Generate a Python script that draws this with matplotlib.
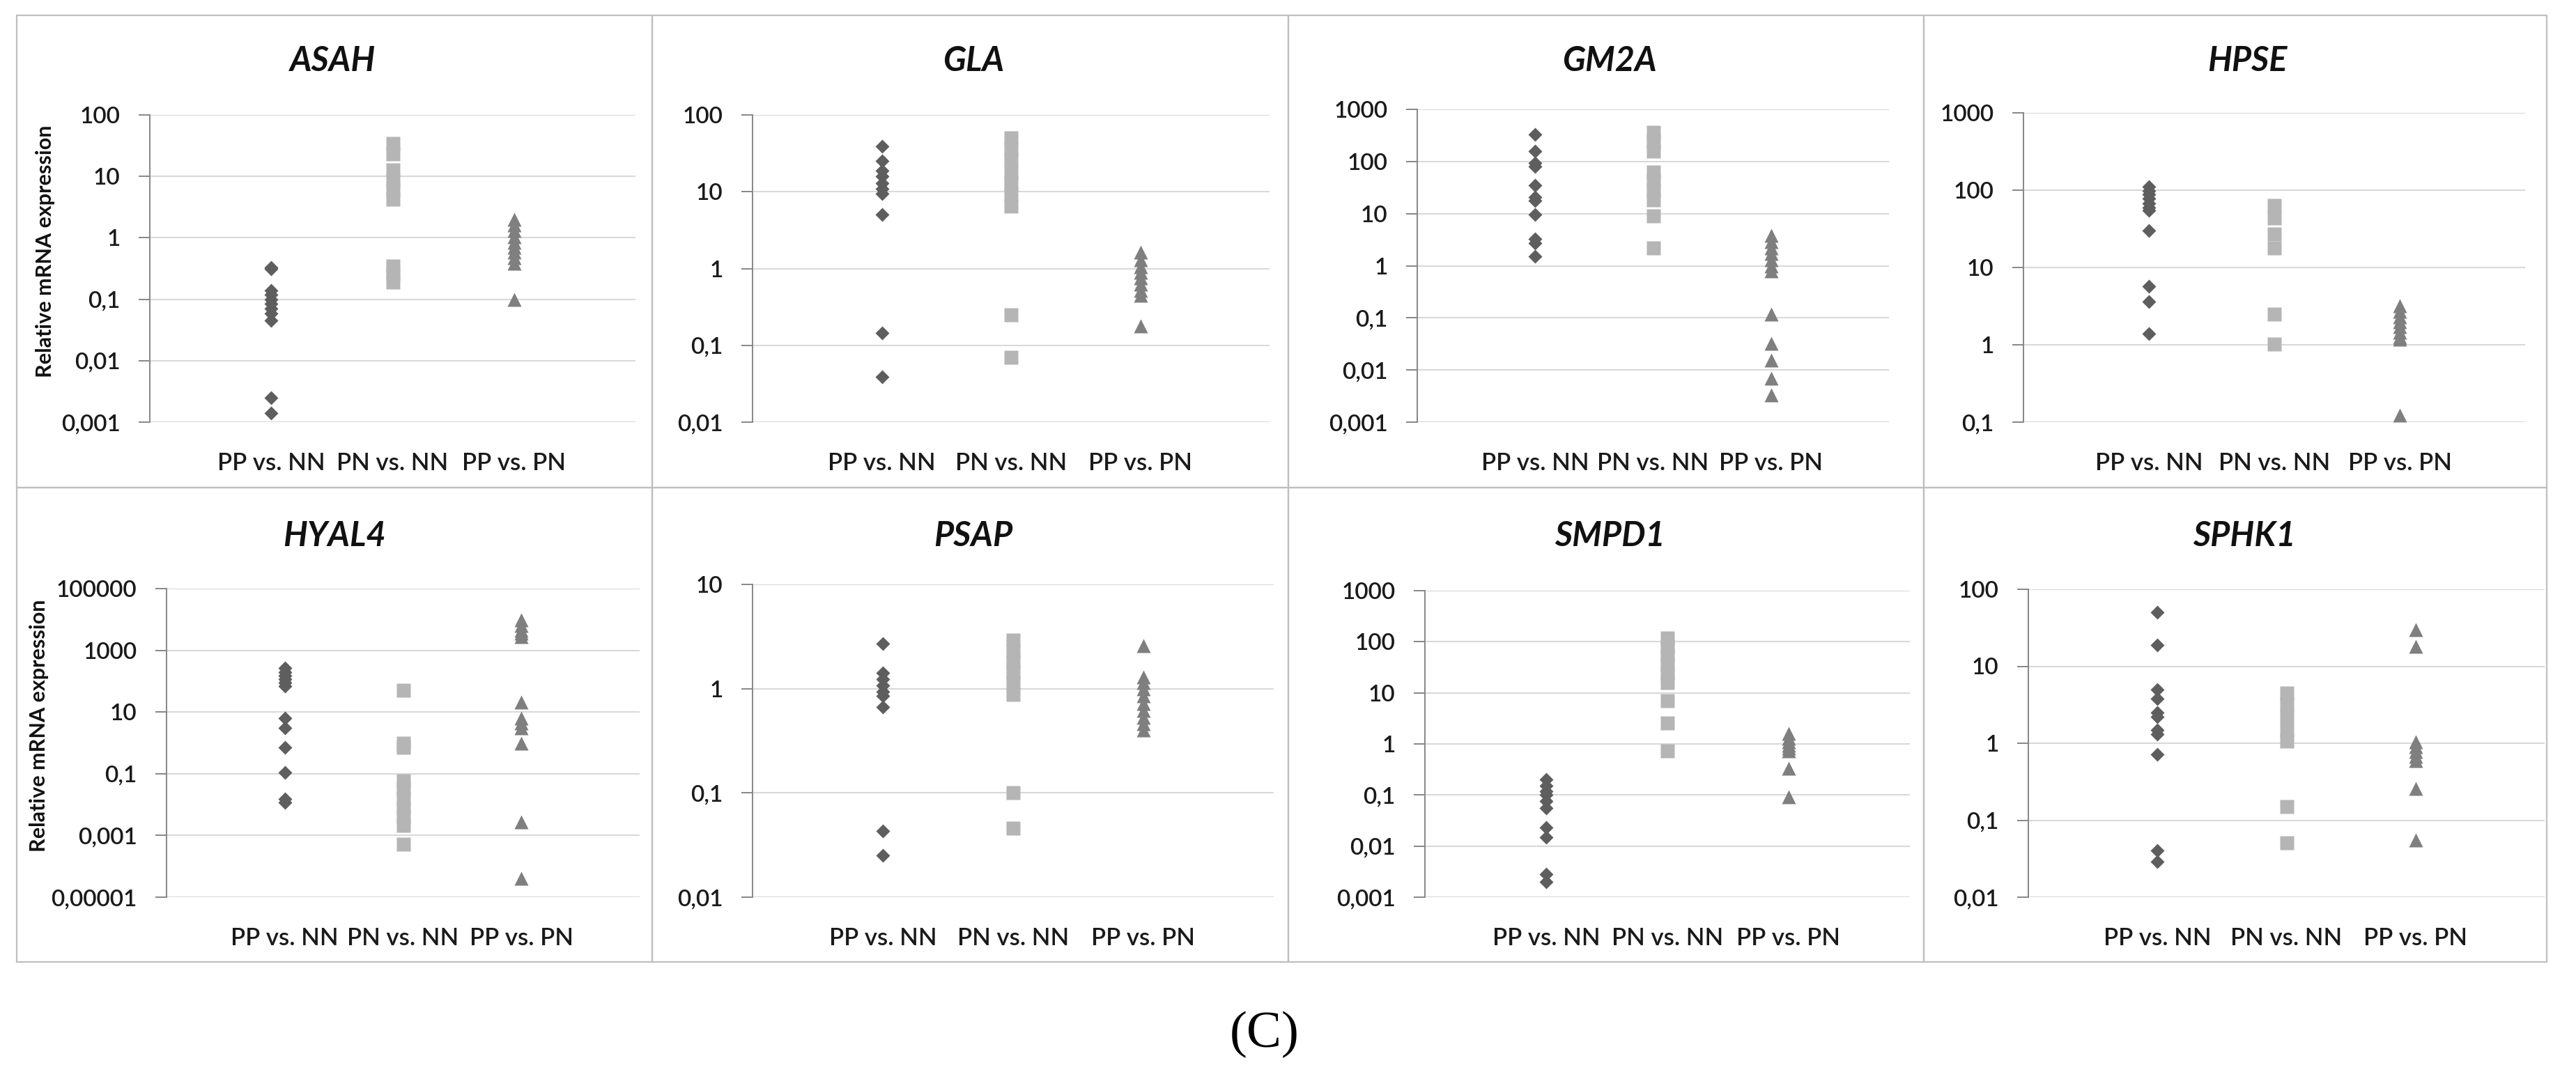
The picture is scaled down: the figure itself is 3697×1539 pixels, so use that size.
import numpy as np
import matplotlib.pyplot as plt
from matplotlib.patches import Rectangle
from matplotlib.ticker import NullLocator

plt.rcParams['font.family'] = ['Lato', 'DejaVu Sans']

W, H = 3697, 1539

groups = ['PP vs. NN', 'PN vs. NN', 'PP vs. PN']
genes = ['ASAH', 'GLA', 'GM2A', 'HPSE', 'HYAL4', 'PSAP', 'SMPD1', 'SPHK1']

# relative mRNA expression (log scale)
asah_pp_nn = [0.33, 0.31, 0.14, 0.12, 0.10, 0.085, 0.07, 0.058, 0.045, 0.0025, 0.0014]
asah_pn_nn = [34, 23, 12.6, 8.7, 6.2, 4.3, 0.35, 0.26, 0.19]
asah_pp_pn = [2.0, 1.6, 1.3, 1.05, 0.85, 0.7, 0.58, 0.47, 0.38, 0.10]

gla_pp_nn = [39, 25, 19, 16, 13, 11, 9.5, 5.0, 0.145, 0.039]
gla_pn_nn = [50, 36, 26, 18, 13, 9.2, 6.5, 0.25, 0.07]
gla_pp_pn = [1.65, 1.3, 1.05, 0.9, 0.75, 0.62, 0.52, 0.45, 0.18]

gm2a_pp_nn = [330, 160, 94, 79, 35, 21, 18, 9.5, 3.3, 2.7, 1.5]
gm2a_pn_nn = [360, 240, 160, 63, 42, 28, 18.5, 8.9, 2.2]
gm2a_pp_pn = [3.8, 2.9, 2.2, 1.7, 1.3, 1.0, 0.8, 0.117, 0.032, 0.0155, 0.0069, 0.0033]

hpse_pp_nn = [110, 98, 88, 78, 68, 60, 55, 30, 5.7, 3.6, 1.4]
hpse_pn_nn = [64, 44, 27, 18, 2.5, 1.02]
hpse_pp_pn = [3.2, 2.7, 2.3, 2.0, 1.7, 1.45, 1.25, 1.17, 0.124]

hyal4_pp_nn = [270, 200, 150, 115, 88, 68, 6.4, 3.0, 0.71, 0.107, 0.0155, 0.0117]
hyal4_pn_nn = [51, 0.95, 0.72, 0.060, 0.031, 0.016, 0.0079, 0.0041, 0.0021, 0.00051]
hyal4_pp_pn = [9500, 6500, 4500, 3500, 2800, 21, 6.3, 4.4, 3.1, 1.0, 0.0028, 0.00004]

psap_pp_nn = [2.7, 1.42, 1.23, 1.07, 0.93, 0.85, 0.67, 0.043, 0.025]
psap_pn_nn = [2.9, 2.3, 1.8, 1.45, 1.15, 0.88, 0.10, 0.046]
psap_pp_pn = [2.6, 1.3, 1.15, 1.0, 0.85, 0.72, 0.62, 0.53, 0.46, 0.40]

smpd1_pp_nn = [0.20, 0.15, 0.12, 0.10, 0.075, 0.055, 0.023, 0.015, 0.0028, 0.0020]
smpd1_pn_nn = [120, 81, 54, 36, 24, 16, 7.0, 2.6, 0.72]
smpd1_pp_pn = [1.6, 1.3, 1.1, 0.95, 0.82, 0.74, 0.33, 0.093]

sphk1_pp_nn = [50, 19, 5.0, 3.8, 2.5, 2.2, 1.5, 1.3, 0.71, 0.040, 0.029]
sphk1_pn_nn = [4.5, 3.2, 2.2, 1.5, 1.06, 0.15, 0.051]
sphk1_pp_pn = [30, 18, 1.05, 0.9, 0.78, 0.68, 0.59, 0.26, 0.055]

# y ticks of each panel
asah_ticks = [0.001, 0.01, 0.1, 1, 10, 100]
gla_ticks = [0.01, 0.1, 1, 10, 100]
gm2a_ticks = [0.001, 0.01, 0.1, 1, 10, 100, 1000]
hpse_ticks = [0.1, 1, 10, 100, 1000]
hyal4_ticks = [0.00001, 0.001, 0.1, 10, 1000, 100000]
psap_ticks = [0.01, 0.1, 1, 10]
smpd1_ticks = [0.001, 0.01, 0.1, 1, 10, 100, 1000]
sphk1_ticks = [0.01, 0.1, 1, 10, 100]

pp_nn = [asah_pp_nn, gla_pp_nn, gm2a_pp_nn, hpse_pp_nn, hyal4_pp_nn, psap_pp_nn, smpd1_pp_nn, sphk1_pp_nn]
pn_nn = [asah_pn_nn, gla_pn_nn, gm2a_pn_nn, hpse_pn_nn, hyal4_pn_nn, psap_pn_nn, smpd1_pn_nn, sphk1_pn_nn]
pp_pn = [asah_pp_pn, gla_pp_pn, gm2a_pp_pn, hpse_pp_pn, hyal4_pp_pn, psap_pp_pn, smpd1_pp_pn, sphk1_pp_pn]
ticks = [asah_ticks, gla_ticks, gm2a_ticks, hpse_ticks, hyal4_ticks, psap_ticks, smpd1_ticks, sphk1_ticks]


def comma(v):
    return np.format_float_positional(v, trim='-').replace('.', ',')


def fx(px):
    return px / W


def fy(py):
    return 1 - py / H


fig = plt.figure(figsize=(W / 100, H / 100), dpi=100)

# panel frames
col_edges = [24, 936, 1849, 2761, 3655]
row_edges = [22, 700, 1381]
for r in range(2):
    for c in range(4):
        x0, x1 = col_edges[c], col_edges[c + 1]
        y0, y1 = row_edges[r], row_edges[r + 1]
        fig.add_artist(Rectangle((fx(x0), fy(y1)), fx(x1) - fx(x0), fy(y0) - fy(y1),
                                 transform=fig.transFigure, fill=False,
                                 ec='#bfbfbf', lw=1.6))

# plot areas in pixels: left, right, top, bottom
boxes = [(215, 912, 165, 606), (1080, 1822, 165, 606), (2034, 2711, 157, 606), (2904, 3624, 162, 606),
         (239, 918, 845, 1288), (1080, 1828, 839, 1288), (2045, 2741, 848, 1288), (2911, 3652, 846, 1288)]
title_x = [478, 1397, 2310, 3225, 480, 1397, 2310, 3221]
title_y = [88, 88, 88, 88, 770, 770, 770, 770]

for i, gene in enumerate(genes):
    l, rgt, t, b = boxes[i]
    ax = fig.add_axes([fx(l), fy(b), fx(rgt) - fx(l), fy(t) - fy(b)])
    ax.set_yscale('log')
    ax.set_xlim(0, 4)
    ax.set_ylim(ticks[i][0], ticks[i][-1])

    ax.plot(np.full(len(pp_nn[i]), 1), pp_nn[i], ls='none', marker='D', ms=10.5,
            color='#5e5e5e', mec='none', clip_on=False)
    ax.plot(np.full(len(pn_nn[i]), 2), pn_nn[i], ls='none', marker='s', ms=14.5,
            color='#b5b5b5', mec='none', clip_on=False)
    ax.plot(np.full(len(pp_pn[i]), 3), pp_pn[i], ls='none', marker='^', ms=15,
            color='#7f7f7f', mec='none', clip_on=False)

    ax.set_yticks(ticks[i])
    ax.set_yticklabels([comma(v) for v in ticks[i]], fontweight='semibold')
    ax.yaxis.set_minor_locator(NullLocator())
    ax.set_xticks([1, 2, 3])
    ax.set_xticklabels(groups, fontweight='semibold')
    ax.tick_params(axis='y', length=11.5, width=1.4, color='#868686', pad=19,
                   labelsize=24, labelcolor='#1a1a1a')
    ax.tick_params(axis='x', length=0, pad=31, labelsize=25, labelcolor='#1a1a1a')

    for s in ['top', 'right', 'bottom']:
        ax.spines[s].set_visible(False)
    ax.spines['left'].set_color('#868686')
    ax.spines['left'].set_linewidth(1.4)
    ax.yaxis.grid(True, color='#d9d9d9', lw=1.5)
    ax.set_axisbelow(True)

    fig.text(fx(title_x[i]), fy(title_y[i]), gene, ha='center', va='center',
             fontsize=35, fontweight='bold', fontstyle='italic', color='#111111')

# y axis titles on the left panels
for yx, yy in [(65, 361), (56, 1042)]:
    fig.text(fx(yx), fy(yy), 'Relative mRNA expression', rotation=90, ha='center',
             va='center', fontsize=22, fontweight='bold', color='#111111')

fig.text(fx(1815), fy(1485), '(C)', ha='center', va='center', fontsize=54,
         family='Liberation Serif', color='black')

fig.savefig('out.png', dpi=100, facecolor='white')
